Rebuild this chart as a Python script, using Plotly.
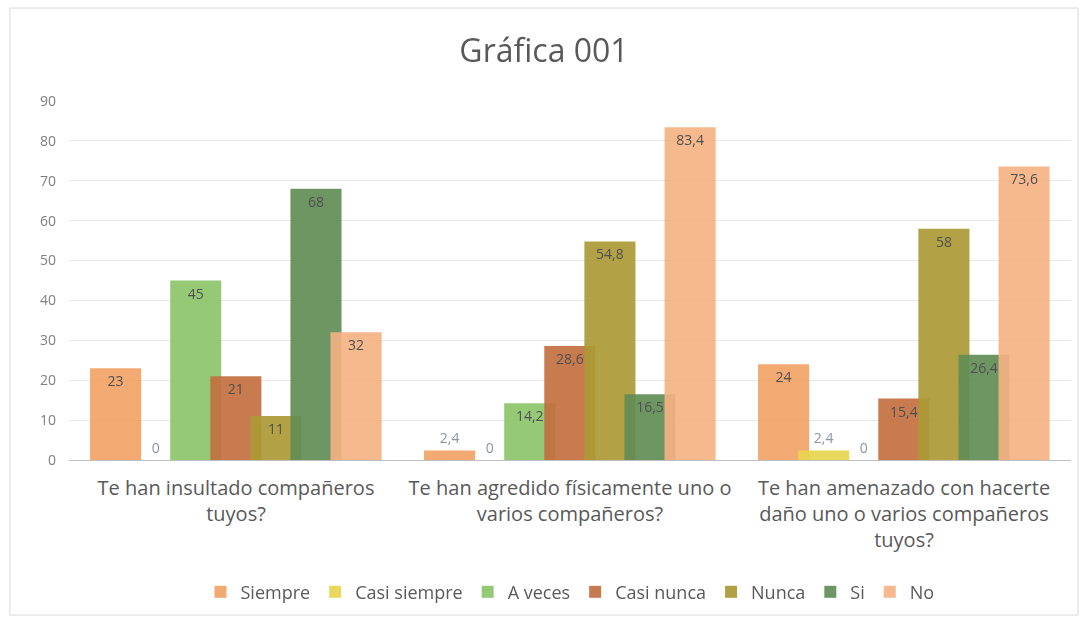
import plotly.graph_objects as go

categories = [
    "Te han insultado compañeros<br>tuyos?",
    "Te han agredido físicamente uno o<br>varios compañeros?",
    "Te han amenazado con hacerte<br>daño uno o varios compañeros<br>tuyos?",
]
series_names = ["Siempre", "Casi siempre", "A veces", "Casi nunca", "Nunca", "Si", "No"]
siempre = [23, 2.4, 24]
casi_siempre = [0, 0, 2.4]
a_veces = [45, 14.2, 0]
casi_nunca = [21, 28.6, 15.4]
nunca = [11, 54.8, 58]
si = [68, 16.5, 26.4]
no = [32, 83.4, 73.6]
series_values = [siempre, casi_siempre, a_veces, casi_nunca, nunca, si, no]
colors = ["#F2A266", "#E9D54F", "#8CC56A", "#C2703F", "#AC9A35", "#628D55", "#F6B283"]

FONT = "Open Sans, Noto Sans, sans-serif"

fig = go.Figure()
bar_w = 0.153
step = 0.12
start = -0.437
for i, (name, vals, col) in enumerate(zip(series_names, series_values, colors)):
    texts = [f"{v:g}".replace(".", ",") for v in vals]
    pos = ["outside" if v < 5 else "inside" for v in vals]
    fig.add_trace(go.Bar(
        x=categories, y=vals, name=name,
        marker=dict(color=col, line=dict(width=0)),
        opacity=0.92,
        width=bar_w, offset=start + i * step,
        text=texts, textposition=pos, insidetextanchor="end",
        insidetextfont=dict(color="#404040", size=14),
        outsidetextfont=dict(color="#7f8ba0", size=14),
        textangle=0, cliponaxis=False,
    ))

fig.update_layout(
    width=1088, height=622,
    barmode="overlay",
    plot_bgcolor="white", paper_bgcolor="white",
    font=dict(family=FONT, color="#595959"),
    title=dict(text="Gráfica 001", x=0.5, xanchor="center", y=0.918, yanchor="middle",
               font=dict(size=32, color="#595959")),
    margin=dict(l=69, r=17, t=101, b=162),
    legend=dict(orientation="h", x=0.5, xanchor="center", y=-0.368, yanchor="middle",
                font=dict(size=18, color="#595959"), traceorder="normal",
                itemwidth=30),
    shapes=[dict(type="rect", xref="paper", yref="paper",
                 x0=-0.059, x1=1.007, y0=-0.432, y1=1.259,
                 line=dict(color="#d9d9d9", width=1))],
)
fig.update_yaxes(range=[0, 90], dtick=10, showgrid=True, gridcolor="#e8e8e8",
                 zeroline=False, tickfont=dict(size=14, color="#7f7f7f"),
                 ticks="", showline=False, ticklabelstandoff=12)
fig.update_xaxes(showline=True, linecolor="#bfbfbf", linewidth=1,
                 tickfont=dict(size=20, color="#595959"), ticks="",
                 ticklabelstandoff=10)

fig.write_html("out.html", config={"displayModeBar": False},
               post_script="document.body.style.margin='0';")
